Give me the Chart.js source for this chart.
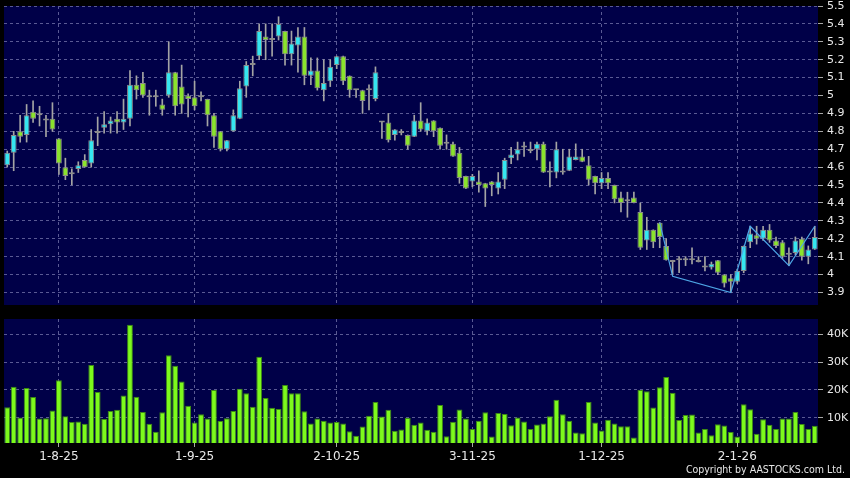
<!DOCTYPE html>
<html>
<head>
<meta charset="utf-8">
<title>Daily chart</title>
<script src="https://cdn.jsdelivr.net/npm/chart.js@4.4.1/dist/chart.umd.min.js"></script>
<style>
  html, body { margin: 0; padding: 0; background: #000; }
  #wrap { position: relative; width: 850px; height: 478px; overflow: hidden; background: #000; }
  #price-box { position: absolute; left: 0; top: 0; width: 850px; height: 310px; }
  #volume-box { position: absolute; left: 0; top: 310px; width: 850px; height: 168px; }
  #copyright {
    position: absolute; right: 5px; top: 463px;
    font: 10.5px "DejaVu Sans Condensed", "DejaVu Sans", sans-serif;
    color: #e6e6e6; white-space: nowrap;
  }
</style>
</head>
<body>
<div id="wrap">
  <div id="price-box"><canvas id="price-chart" width="850" height="310"></canvas></div>
  <div id="volume-box"><canvas id="volume-chart" width="850" height="168"></canvas></div>
  <div id="copyright">Copyright by AASTOCKS.com Ltd.</div>
</div>
<script>
// daily candles, one entry per trading day (22-Jul-25 .. 20-Jan-26)
const opens = [
  4.61, 4.68, 4.80, 4.78, 4.91, 4.90, 4.86, 4.87, 4.76, 4.60,
  4.56, 4.59, 4.64, 4.62, 4.79, 4.82, 4.84, 4.87, 4.85, 4.87,
  5.06, 5.07, 4.99, 4.99, 4.95, 5.00, 5.13, 5.05, 5.00, 4.99,
  4.99, 4.98, 4.89, 4.80, 4.70, 4.80, 4.87, 5.05, 5.17, 5.22,
  5.33, 5.31, 5.33, 5.36, 5.23, 5.28, 5.33, 5.11, 5.14, 5.03,
  5.08, 5.17, 5.22, 5.11, 5.03, 5.03, 5.03, 4.98, 4.85, 4.85,
  4.78, 4.80, 4.78, 4.77, 4.86, 4.80, 4.86, 4.82, 4.74, 4.73,
  4.68, 4.55, 4.52, 4.52, 4.51, 4.52, 4.48, 4.53, 4.65, 4.67,
  4.71, 4.70, 4.70, 4.73, 4.57, 4.57, 4.58, 4.58, 4.64, 4.66,
  4.61, 4.55, 4.51, 4.54, 4.50, 4.43, 4.41, 4.43, 4.35, 4.19,
  4.25, 4.29, 4.16, 4.08, 4.09, 4.08, 4.09, 4.07, 4.05, 4.04,
  4.08, 4.00, 3.98, 3.96, 4.02, 4.18, 4.22, 4.20, 4.25, 4.19,
  4.18, 4.11, 4.12, 4.20, 4.10, 4.14,
];
const highs = [
  4.69, 4.80, 4.89, 4.95, 4.97, 4.94, 4.89, 4.96, 4.76, 4.65,
  4.59, 4.63, 4.67, 4.81, 4.88, 4.91, 4.88, 4.91, 4.98, 5.14,
  5.11, 5.13, 5.03, 5.03, 4.98, 5.30, 5.13, 5.17, 5.01, 5.08,
  5.02, 4.98, 4.90, 4.80, 4.75, 4.92, 5.08, 5.19, 5.22, 5.40,
  5.40, 5.40, 5.44, 5.36, 5.36, 5.38, 5.38, 5.21, 5.21, 5.20,
  5.20, 5.22, 5.22, 5.11, 5.03, 5.03, 5.06, 5.16, 4.85, 4.90,
  4.81, 4.81, 4.78, 4.89, 4.96, 4.87, 4.86, 4.82, 4.78, 4.74,
  4.71, 4.55, 4.56, 4.58, 4.51, 4.52, 4.57, 4.65, 4.71, 4.74,
  4.74, 4.74, 4.74, 4.74, 4.63, 4.74, 4.70, 4.70, 4.73, 4.70,
  4.66, 4.55, 4.57, 4.57, 4.50, 4.46, 4.46, 4.46, 4.40, 4.32,
  4.25, 4.29, 4.20, 4.08, 4.10, 4.10, 4.15, 4.10, 4.10, 4.07,
  4.08, 4.00, 4.00, 4.03, 4.16, 4.27, 4.27, 4.27, 4.28, 4.21,
  4.19, 4.15, 4.21, 4.21, 4.16, 4.27,
];
const lows = [
  4.60, 4.58, 4.74, 4.74, 4.85, 4.83, 4.77, 4.80, 4.56, 4.53,
  4.50, 4.57, 4.60, 4.60, 4.72, 4.79, 4.79, 4.79, 4.81, 4.83,
  4.98, 4.99, 4.89, 4.94, 4.89, 4.99, 4.89, 4.90, 4.88, 4.92,
  4.97, 4.83, 4.71, 4.69, 4.69, 4.80, 4.87, 4.99, 5.11, 5.20,
  5.20, 5.22, 5.31, 5.17, 5.17, 5.13, 5.06, 5.06, 5.03, 4.97,
  5.05, 5.15, 5.06, 4.99, 4.99, 4.90, 4.92, 4.97, 4.76, 4.74,
  4.75, 4.78, 4.70, 4.77, 4.80, 4.78, 4.77, 4.70, 4.70, 4.66,
  4.51, 4.48, 4.49, 4.46, 4.38, 4.44, 4.45, 4.48, 4.62, 4.64,
  4.66, 4.68, 4.64, 4.57, 4.49, 4.54, 4.56, 4.58, 4.64, 4.63,
  4.50, 4.45, 4.48, 4.48, 4.40, 4.35, 4.32, 4.40, 4.14, 4.14,
  4.15, 4.15, 4.08, 4.00, 4.01, 4.05, 4.06, 4.07, 4.02, 4.03,
  4.00, 3.93, 3.90, 3.95, 4.01, 4.15, 4.17, 4.19, 4.18, 4.15,
  4.09, 4.05, 4.11, 4.08, 4.06, 4.14,
];
const closes = [
  4.68, 4.78, 4.77, 4.89, 4.87, 4.89, 4.87, 4.81, 4.62, 4.55,
  4.56, 4.61, 4.60, 4.75, 4.79, 4.84, 4.86, 4.85, 4.87, 5.06,
  5.03, 5.00, 4.99, 4.99, 4.92, 5.13, 4.94, 4.95, 4.98, 4.94,
  4.99, 4.89, 4.77, 4.70, 4.75, 4.89, 5.04, 5.17, 5.18, 5.36,
  5.31, 5.31, 5.40, 5.23, 5.29, 5.33, 5.11, 5.14, 5.04, 5.07,
  5.16, 5.22, 5.08, 5.03, 5.03, 4.97, 5.03, 5.13, 4.85, 4.75,
  4.81, 4.79, 4.72, 4.86, 4.81, 4.85, 4.80, 4.72, 4.73, 4.66,
  4.54, 4.48, 4.55, 4.50, 4.48, 4.50, 4.52, 4.64, 4.67, 4.70,
  4.72, 4.69, 4.73, 4.57, 4.57, 4.70, 4.57, 4.66, 4.66, 4.63,
  4.53, 4.51, 4.54, 4.51, 4.42, 4.40, 4.41, 4.40, 4.15, 4.25,
  4.18, 4.21, 4.08, 4.07, 4.08, 4.09, 4.08, 4.07, 4.04, 4.06,
  4.01, 3.95, 3.96, 4.02, 4.16, 4.23, 4.20, 4.25, 4.19, 4.16,
  4.10, 4.12, 4.19, 4.10, 4.14, 4.21,
];
const volumes = [
  13800, 21100, 10100, 20700, 17500, 9800, 9900, 12600, 23500, 10600,
  8500, 8700, 7900, 28900, 19300, 9600, 12500, 12900, 18000, 43300,
  17600, 12100, 7900, 5000, 12000, 32400, 28700, 23000, 14300, 8300,
  11300, 9800, 20000, 8900, 9900, 12500, 20400, 18800, 14000, 31900,
  17100, 13600, 13200, 21800, 18800, 18800, 12400, 8000, 9800, 9000,
  8300, 8500, 8000, 5200, 3600, 6900, 10800, 15700, 10500, 12900,
  5400, 5800, 10000, 7500, 8300, 5700, 5000, 14600, 3400, 8600,
  13000, 9800, 6000, 9000, 12000, 3300, 11700, 11400, 7400, 10100,
  8700, 6000, 7600, 8000, 10600, 16500, 11300, 9000, 4800, 4500,
  15700, 8300, 5500, 9300, 8000, 7000, 7000, 3000, 20000, 19500,
  13700, 21000, 24600, 19000, 9200, 11000, 11200, 4800, 6000, 3800,
  7700, 7300, 4900, 3300, 14900, 13100, 4300, 9500, 7500, 6000,
  9800, 9800, 12100, 7800, 6000, 7200,
];
// zigzag pivots: [day index, price]
const zigzagPivots = [[101, 4.29], [103, 3.99], [112, 3.90], [115, 4.27], [121, 4.05], [125, 4.27]];

const tickDays = [8, 29, 51, 72, 92, 113];
const tickLabels = ["1-8-25", "1-9-25", "2-10-25", "3-11-25", "1-12-25", "2-1-26"];
const priceTicks = [3.9, 4, 4.1, 4.2, 4.3, 4.4, 4.5, 4.6, 4.7, 4.8, 4.9, 5, 5.1, 5.2, 5.3, 5.4, 5.5];
const volumeTicks = [10000, 20000, 30000, 40000];

const NAVY = "#000048";
const GRID = "#5a5a94";
const TICK = "#a8a8a8";
const TEXT = "#e8e8e8";
const UP = "#35e6f0";
const DOWN = "#8be32d";
const FLAT = "#9a9a9a";
const FONT = "DejaVu Sans";

const dayCount = opens.length;

const plotBackground = {
  id: "plotBackground",
  beforeDraw(chart) {
    const { ctx, chartArea } = chart;
    ctx.save();
    ctx.fillStyle = NAVY;
    ctx.fillRect(chartArea.left, chartArea.top, chartArea.right - chartArea.left, chartArea.bottom - chartArea.top);
    ctx.restore();
  },
};

function candleColor(i) {
  if (closes[i] > opens[i]) return UP;
  if (closes[i] < opens[i]) return DOWN;
  return FLAT;
}

function dateAxis(showLabels) {
  return {
    type: "linear",
    min: -0.5,
    max: dayCount - 0.5,
    offset: false,
    afterBuildTicks: (scale) => {
      scale.ticks = tickDays.map((v) => ({ value: v }));
    },
    afterFit: (scale) => {
      scale.height = showLabels ? 35 : 5;
      scale.paddingLeft = 0;
      scale.paddingRight = 0;
    },
    ticks: {
      display: showLabels,
      autoSkip: false,
      maxRotation: 0,
      color: TEXT,
      padding: 3,
      font: { family: FONT, size: 12 },
      callback: (value, index) => tickLabels[index],
    },
    grid: {
      offset: false,
      color: GRID,
      drawTicks: showLabels,
      tickLength: 4,
      tickColor: TICK,
      tickBorderDash: [],
    },
    border: { display: false, dash: [3, 3] },
  };
}

function valueAxis(min, max, tickValues, format) {
  return {
    position: "right",
    min: min,
    max: max,
    afterBuildTicks: (scale) => {
      scale.ticks = tickValues.map((v) => ({ value: v }));
    },
    afterFit: (scale) => {
      scale.width = 32;
      scale.paddingTop = 0;
      scale.paddingBottom = 0;
    },
    ticks: {
      color: TEXT,
      padding: 4,
      font: { family: FONT, size: 11 },
      callback: format,
    },
    grid: {
      color: GRID,
      tickLength: 5,
      tickColor: TICK,
      tickBorderDash: [],
    },
    border: { display: false, dash: [3, 3] },
  };
}

const baseOptions = {
  responsive: false,
  animation: false,
  events: [],
  plugins: { legend: { display: false }, tooltip: { enabled: false } },
};

new Chart(document.getElementById("price-chart"), {
  type: "bar",
  data: {
    datasets: [
      {
        type: "line",
        data: zigzagPivots.map((p) => ({ x: p[0], y: p[1] })),
        borderColor: "#4da6e6",
        borderWidth: 1.2,
        pointRadius: 0,
        tension: 0,
        order: 0,
      },
      {
        data: opens.map((o, i) => ({ x: i, y: [o, closes[i]] })),
        backgroundColor: (ctx) => candleColor(ctx.dataIndex),
        borderColor: "#8c8c8c",
        borderWidth: 1,
        borderSkipped: false,
        minBarLength: 2,
        barPercentage: 0.9,
        categoryPercentage: 1,
        grouped: false,
        order: 1,
      },
      {
        data: lows.map((l, i) => ({ x: i, y: [l, highs[i]] })),
        backgroundColor: "#a4a4a4",
        borderWidth: 0,
        barThickness: 1,
        grouped: false,
        order: 2,
      },
    ],
  },
  options: {
    ...baseOptions,
    layout: { padding: { left: 4, top: 6, right: 0, bottom: 0 } },
    scales: {
      x: dateAxis(false),
      y: valueAxis(3.83, 5.5, priceTicks, (v) => String(v)),
    },
  },
  plugins: [plotBackground],
});

new Chart(document.getElementById("volume-chart"), {
  type: "bar",
  data: {
    datasets: [
      {
        data: volumes.map((v, i) => ({ x: i, y: v })),
        backgroundColor: "#7dfa1c",
        borderColor: "#3d8a14",
        borderWidth: 1,
        borderSkipped: false,
        barPercentage: 0.9,
        categoryPercentage: 1,
      },
    ],
  },
  options: {
    ...baseOptions,
    layout: { padding: { left: 4, top: 9, right: 0, bottom: 0 } },
    scales: {
      x: dateAxis(true),
      y: valueAxis(1000, 45400, volumeTicks, (v) => v / 1000 + "K"),
    },
  },
  plugins: [plotBackground],
});
</script>
</body>
</html>
